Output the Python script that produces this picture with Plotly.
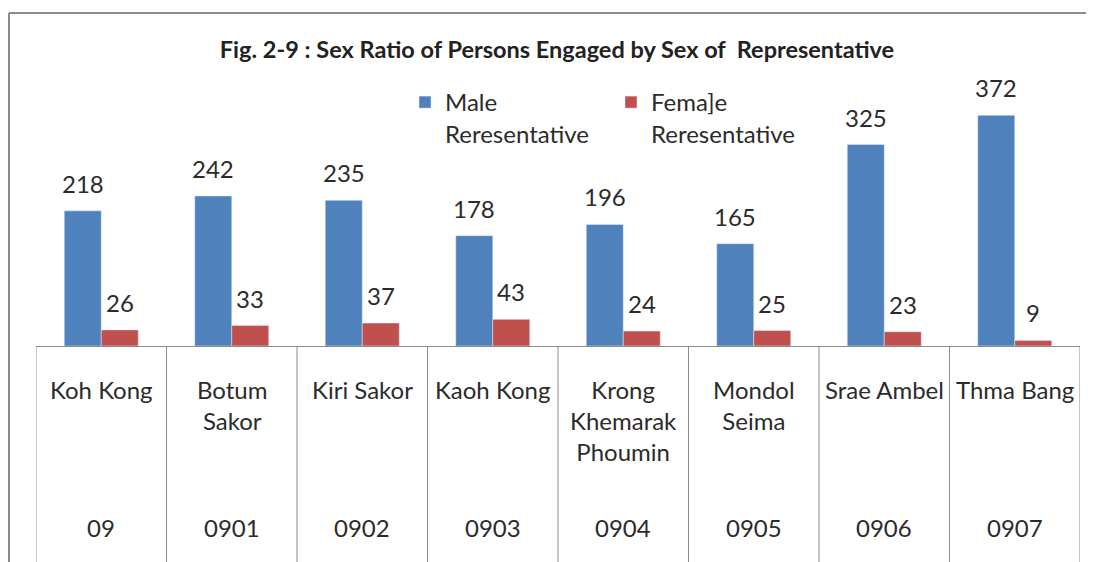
import plotly.graph_objects as go

# Districts (with codes) and counts of persons engaged, by sex of representative
districts = ["Koh Kong", "Botum<br>Sakor", "Kiri Sakor", "Kaoh Kong",
             "Krong<br>Khemarak<br>Phoumin", "Mondol<br>Seima", "Srae Ambel", "Thma Bang"]
codes = ["09", "0901", "0902", "0903", "0904", "0905", "0906", "0907"]
male = [218, 242, 235, 178, 196, 165, 325, 372]
female = [26, 33, 37, 43, 24, 25, 23, 9]

BLUE = "#4F81BD"
RED = "#C0504D"
GRID = "#8c8c8c"
TXT = "#2b2b2b"
FONT = "Lato"
FS = 24

fig = go.Figure()
fig.add_trace(go.Bar(x=codes, y=male, name="Male<br>Reresentative", marker_color=BLUE))
fig.add_trace(go.Bar(x=codes, y=female, name="Fema]e<br>Reresentative", marker_color=RED))

# the page has an 8px body margin, so the figure is drawn 8px smaller
OFF = 8
W, H = 1094 - OFF, 562 - OFF
L, R, T, B = 28, 14, 90, 216
ph = H - T - B
pw = W - L - R


# convert screen pixel positions into paper coordinates
def py(y):
    return (H - B - (y - OFF)) / ph


def px_(x):
    return (x - OFF - L) / pw


annotations = []
for i in range(len(codes)):
    # value labels above bars
    annotations.append(dict(x=i, y=male[i], text=str(male[i]), xref="x", yref="y",
                            xshift=-18.5, yshift=11, showarrow=False, yanchor="bottom",
                            font=dict(size=FS, color=TXT, family=FONT)))
    annotations.append(dict(x=i, y=female[i], text=str(female[i]), xref="x", yref="y",
                            xshift=18.5, yshift=11, showarrow=False, yanchor="bottom",
                            font=dict(size=FS, color=TXT, family=FONT)))
    # district name and code in the table under the axis
    annotations.append(dict(x=i, y=py(373), text=districts[i], xref="x", yref="paper",
                            showarrow=False, yanchor="top", align="center",
                            font=dict(size=FS, color=TXT, family=FONT)))
    annotations.append(dict(x=i, y=py(527), text=codes[i], xref="x", yref="paper",
                            showarrow=False, yanchor="middle",
                            font=dict(size=FS, color=TXT, family=FONT)))

shapes = []
# table lines between categories
for i in range(len(codes) + 1):
    shapes.append(dict(type="line", xref="x", yref="paper", x0=i - 0.5, x1=i - 0.5,
                       y0=0, y1=py(562), line=dict(color=GRID, width=1)))
# outer chart border (top and left)
shapes.append(dict(type="line", xref="paper", yref="paper", x0=px_(9), x1=px_(1094),
                   y0=py(13), y1=py(13), line=dict(color=GRID, width=2)))
shapes.append(dict(type="line", xref="paper", yref="paper", x0=px_(9), x1=px_(9),
                   y0=py(13), y1=py(562), line=dict(color=GRID, width=2)))

fig.update_layout(
    width=W, height=H,
    margin=dict(l=L, r=R, t=T, b=B),
    paper_bgcolor="white", plot_bgcolor="white",
    font=dict(family=FONT, color=TXT),
    title=dict(text="<b>Fig. 2-9 : Sex Ratio of Persons Engaged by Sex of  Representative</b>",
               x=(557 - OFF) / W, xanchor="center", y=1 - (50 - OFF) / H, yanchor="middle",
               font=dict(size=23.5, color="#222222", family=FONT)),
    barmode="group", bargap=0.433, bargroupgap=0,
    legend=dict(orientation="h", x=px_(405), y=py(80), xanchor="left", yanchor="top",
                valign="top", font=dict(size=FS, color=TXT, family=FONT),
                entrywidth=161, entrywidthmode="pixels", bgcolor="rgba(0,0,0,0)"),
    xaxis=dict(type="category", showticklabels=False, showline=True, linecolor=GRID,
               linewidth=1, showgrid=False, ticks="", range=[-0.5, 7.5]),
    yaxis=dict(range=[0, 400], visible=False, showgrid=False),
    annotations=annotations,
    shapes=shapes,
)

fig.write_html("out.html")
